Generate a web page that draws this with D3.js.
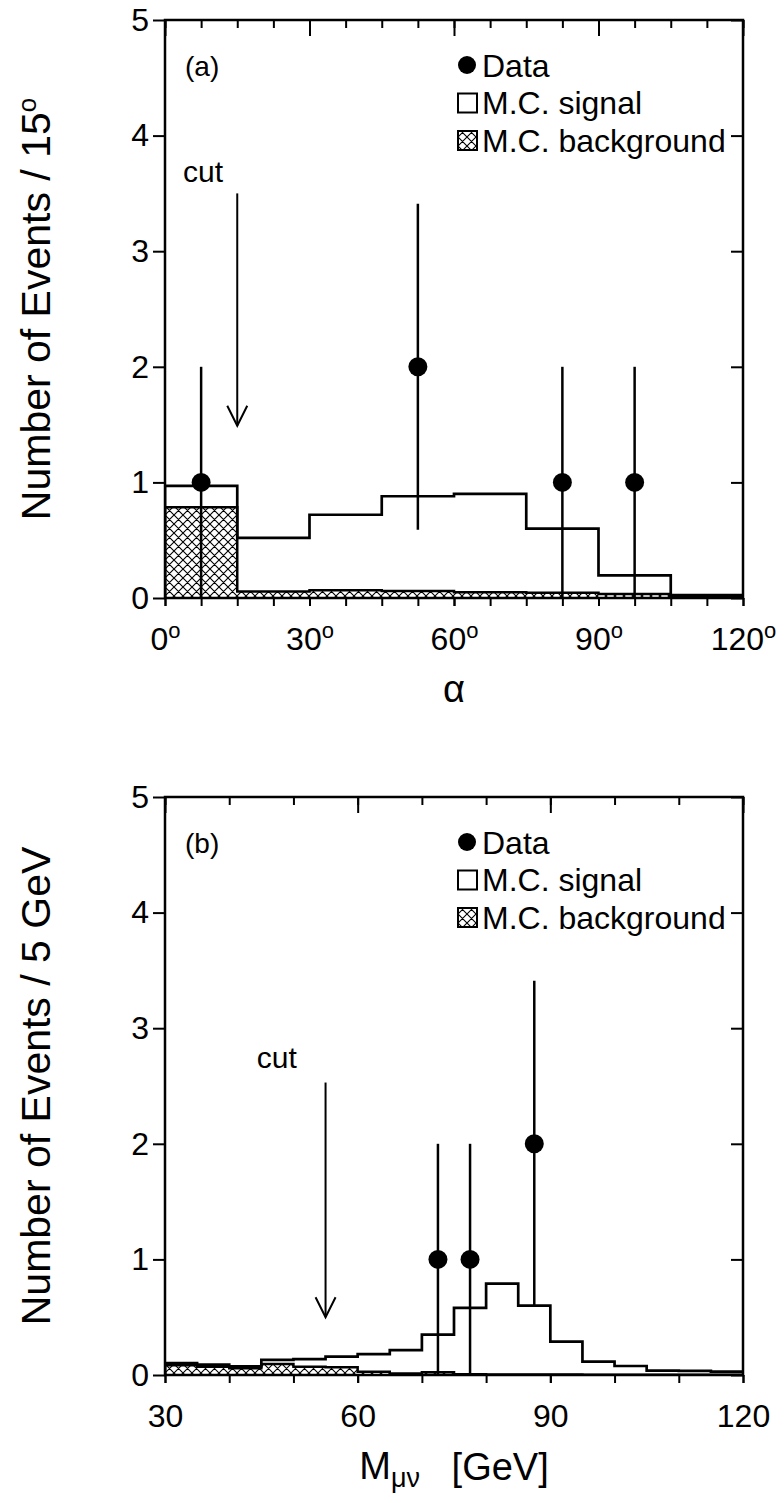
<!DOCTYPE html>
<html lang="en">
<head>
    <meta charset="UTF-8">
    <title>Alpha and M(mu nu) distributions</title>
    <script src="https://d3js.org/d3.v7.min.js"></script>
    <style>
        body { margin: 0; background: #fff; }
        svg { display: block; font-family: "Liberation Sans", Arial, sans-serif; }
        .domain { display: none; }
    </style>
</head>
<body>
    <div id="plot"></div>

    <script>
        // ---- data ----
        // panel (a): opening angle alpha, 15 degree bins
        const alphaEdges = [0, 15, 30, 45, 60, 75, 90, 105, 120];
        const alphaSignal = [0.97, 0.52, 0.72, 0.88, 0.90, 0.60, 0.195, 0.02];
        const alphaBackground = [0.785, 0.057, 0.068, 0.06, 0.05, 0.045, 0.035, 0.025];
        const alphaDataX = [7.5, 52.5, 82.5, 97.5];
        const alphaDataN = [1, 2, 1, 1];
        const alphaErrLo = [0, 0.59, 0, 0];
        const alphaErrHi = [2, 3.41, 2, 2];
        const alphaTicks = [0, 30, 60, 90, 120];
        const alphaMinorTicks = [0, 7.5, 15, 22.5, 30, 37.5, 45, 52.5, 60, 67.5, 75, 82.5, 90, 97.5, 105, 112.5, 120];

        // panel (b): M(mu nu), 5 GeV bins
        const massEdges = [30, 35, 40, 45, 50, 55, 60, 65, 70, 75, 80, 85, 90, 95, 100, 105, 110, 115, 120];
        const massSignal = [0.104, 0.089, 0.075, 0.13, 0.138, 0.159, 0.18, 0.216, 0.35, 0.58, 0.79, 0.60, 0.288, 0.115, 0.078, 0.037, 0.035, 0.03];
        const massBackground = [0.085, 0.072, 0.058, 0.095, 0.072, 0.066, 0.029, 0.014, 0.023, 0.006, 0.005, 0.004, 0.004, 0.003, 0.003, 0.003, 0.003, 0.003];
        const massDataX = [72.5, 77.5, 87.5];
        const massDataN = [1, 1, 2];
        const massErrLo = [0, 0, 0.59];
        const massErrHi = [2, 2, 3.41];
        const massTicks = [30, 60, 90, 120];
        const massMinorTicks = [30, 40, 50, 60, 70, 80, 90, 100, 110, 120];

        const yTicks = [0, 1, 2, 3, 4, 5];
        const legendLabels = ["Data", "M.C. signal", "M.C. background"];

        // ---- layout ----
        const W = 784, H = 1503;
        const left = 165, size = 578;

        const svg = d3.select("#plot").append("svg")
            .attr("width", W)
            .attr("height", H);

        // cross hatch for the background
        const pat = svg.append("defs").append("pattern")
            .attr("id", "xhatch")
            .attr("patternUnits", "userSpaceOnUse")
            .attr("width", 9)
            .attr("height", 9);
        pat.append("rect").attr("width", 9).attr("height", 9).attr("fill", "#fff");
        pat.append("path")
            .attr("d", "M0,0L9,9M9,0L0,9M-1,8L1,10M8,-1L10,1")
            .attr("stroke", "#000")
            .attr("stroke-width", 1.1)
            .attr("fill", "none");

        function drawPanel(opt) {
            const g = svg.append("g").attr("transform", `translate(${left},${opt.top})`);

            const x = d3.scaleLinear().domain(opt.xDomain).range([0, size]);
            const y = d3.scaleLinear().domain([0, 5]).range([size, 0]);

            g.append("clipPath").attr("id", "clip" + opt.id)
                .append("rect").attr("width", size).attr("height", size);
            const plot = g.append("g").attr("clip-path", `url(#clip${opt.id})`);

            // histogram points for step curves
            const steps = vals => vals.map((v, i) => [opt.edges[i], v])
                .concat([[opt.edges[opt.edges.length - 1], vals[vals.length - 1]]]);

            const area = d3.area()
                .curve(d3.curveStepAfter)
                .x(d => x(d[0]))
                .y0(y(0))
                .y1(d => y(d[1]));
            const line = d3.line()
                .curve(d3.curveStepAfter)
                .x(d => x(d[0]))
                .y(d => y(d[1]));

            const bg = steps(opt.background);
            plot.append("path")
                .attr("d", area(bg))
                .attr("fill", "url(#xhatch)");
            plot.append("path")
                .attr("d", line([[opt.edges[0], 0]].concat(bg)))
                .attr("fill", "none")
                .attr("stroke", "#000")
                .attr("stroke-width", 2.5);

            plot.append("path")
                .attr("d", line([[opt.edges[0], 0]].concat(steps(opt.signal))))
                .attr("fill", "none")
                .attr("stroke", "#000")
                .attr("stroke-width", 2.7);

            // data with error bars
            plot.selectAll(".err")
                .data(opt.dataX)
                .join("line")
                    .attr("x1", d => x(d))
                    .attr("x2", d => x(d))
                    .attr("y1", (d, i) => y(opt.errLo[i]))
                    .attr("y2", (d, i) => y(opt.errHi[i]))
                    .attr("stroke", "#000")
                    .attr("stroke-width", 2.5);
            plot.selectAll(".pt")
                .data(opt.dataX)
                .join("circle")
                    .attr("cx", d => x(d))
                    .attr("cy", (d, i) => y(opt.dataN[i]))
                    .attr("r", 9.5)
                    .attr("fill", "#000");

            // cut arrow
            const ax = x(opt.cut.x);
            g.append("line")
                .attr("x1", ax).attr("x2", ax)
                .attr("y1", y(opt.cut.top)).attr("y2", y(opt.cut.tip))
                .attr("stroke", "#000").attr("stroke-width", 2);
            g.append("path")
                .attr("d", `M${ax - 10},${y(opt.cut.tip) - 20}L${ax},${y(opt.cut.tip)}L${ax + 10},${y(opt.cut.tip) - 20}`)
                .attr("fill", "none").attr("stroke", "#000").attr("stroke-width", 2);
            g.append("text")
                .attr("x", x(opt.cut.labelX))
                .attr("y", y(opt.cut.labelY))
                .attr("text-anchor", "middle")
                .attr("dy", "0.35em")
                .style("font-size", "30px")
                .text("cut");

            // axes
            const yAxis = d3.axisLeft(y).tickValues(yTicks).tickSize(12).tickPadding(4).tickFormat(d3.format("d"));
            const gy = g.append("g").call(yAxis);
            gy.selectAll("text").style("font-size", "32px");
            g.append("g").attr("transform", `translate(${size},0)`)
                .call(d3.axisLeft(y).tickValues(yTicks).tickSize(12).tickFormat(""));

            g.append("g").attr("transform", `translate(0,${size})`)
                .call(d3.axisBottom(x).tickValues(opt.minorTicks).tickSize(8).tickFormat(""));
            const gx = g.append("g").attr("transform", `translate(0,${size})`)
                .call(d3.axisBottom(x).tickValues(opt.ticks).tickSize(8).tickPadding(21));
            gx.selectAll("text").style("font-size", "32px");
            if (opt.degrees) {
                gx.selectAll(".tick text")
                    .append("tspan")
                    .attr("dy", "-0.55em")
                    .style("font-size", "22px")
                    .text("o");
            }
            g.append("g")
                .call(d3.axisBottom(x).tickValues(opt.minorTicks).tickSize(8).tickFormat(""));
            g.append("g")
                .call(d3.axisBottom(x).tickValues(opt.ticks).tickSize(16).tickFormat(""));

            g.selectAll(".tick line").attr("stroke-width", 2);
            g.selectAll(".tick text").attr("fill", "#000");

            // frame
            g.append("rect")
                .attr("width", size).attr("height", size)
                .attr("fill", "none")
                .attr("stroke", "#000")
                .attr("stroke-width", 2.5);

            // panel tag
            g.append("text")
                .attr("x", 20).attr("y", 56)
                .style("font-size", "28px")
                .text(opt.tag);

            // legend
            const lg = g.append("g").attr("transform", "translate(302,45)");
            const row = 37.5;
            lg.append("circle").attr("cx", 0).attr("cy", 0).attr("r", 9).attr("fill", "#000");
            lg.append("rect").attr("x", -9).attr("y", row - 9).attr("width", 19).attr("height", 19)
                .attr("fill", "#fff").attr("stroke", "#000").attr("stroke-width", 2);
            lg.append("rect").attr("x", -9).attr("y", 2 * row - 9).attr("width", 19).attr("height", 19)
                .attr("fill", "url(#xhatch)").attr("stroke", "#000").attr("stroke-width", 2);
            lg.selectAll(".lt")
                .data(legendLabels)
                .join("text")
                    .attr("x", 15)
                    .attr("y", (d, i) => i * row)
                    .attr("dy", "0.36em")
                    .style("font-size", "32px")
                    .text(d => d);

            // axis titles
            const yt = g.append("text")
                .attr("transform", `translate(-115,${size / 2}) rotate(-90)`)
                .attr("text-anchor", "middle")
                .style("font-size", "41px")
                .text(opt.yTitle);
            if (opt.degrees) {
                yt.append("tspan").attr("dy", "-0.55em").style("font-size", "26px").text("o");
            }

            const xt = g.append("text")
                .attr("x", size / 2)
                .attr("y", size + 104)
                .attr("text-anchor", "middle")
                .style("font-size", "38px");
            if (opt.degrees) {
                xt.text("\u03b1");
            } else {
                xt.append("tspan").text("M");
                xt.append("tspan").attr("dy", "0.3em").style("font-size", "27px").text("\u03bc\u03bd");
                xt.append("tspan").attr("dy", "-0.2em").text("\u00a0\u00a0\u00a0[GeV]");
            }
        }

        drawPanel({
            id: "a", top: 20, tag: "(a)", degrees: true,
            xDomain: [0, 120], edges: alphaEdges,
            signal: alphaSignal, background: alphaBackground,
            dataX: alphaDataX, dataN: alphaDataN, errLo: alphaErrLo, errHi: alphaErrHi,
            ticks: alphaTicks, minorTicks: alphaMinorTicks,
            cut: { x: 15, top: 3.5, tip: 1.49, labelX: 7.9, labelY: 3.69 },
            yTitle: "Number of Events / 15"
        });

        drawPanel({
            id: "b", top: 797, tag: "(b)", degrees: false,
            xDomain: [30, 120], edges: massEdges,
            signal: massSignal, background: massBackground,
            dataX: massDataX, dataN: massDataN, errLo: massErrLo, errHi: massErrHi,
            ticks: massTicks, minorTicks: massMinorTicks,
            cut: { x: 55, top: 2.53, tip: 0.5, labelX: 47.4, labelY: 2.75 },
            yTitle: "Number of Events / 5 GeV"
        });
    </script>
</body>
</html>
